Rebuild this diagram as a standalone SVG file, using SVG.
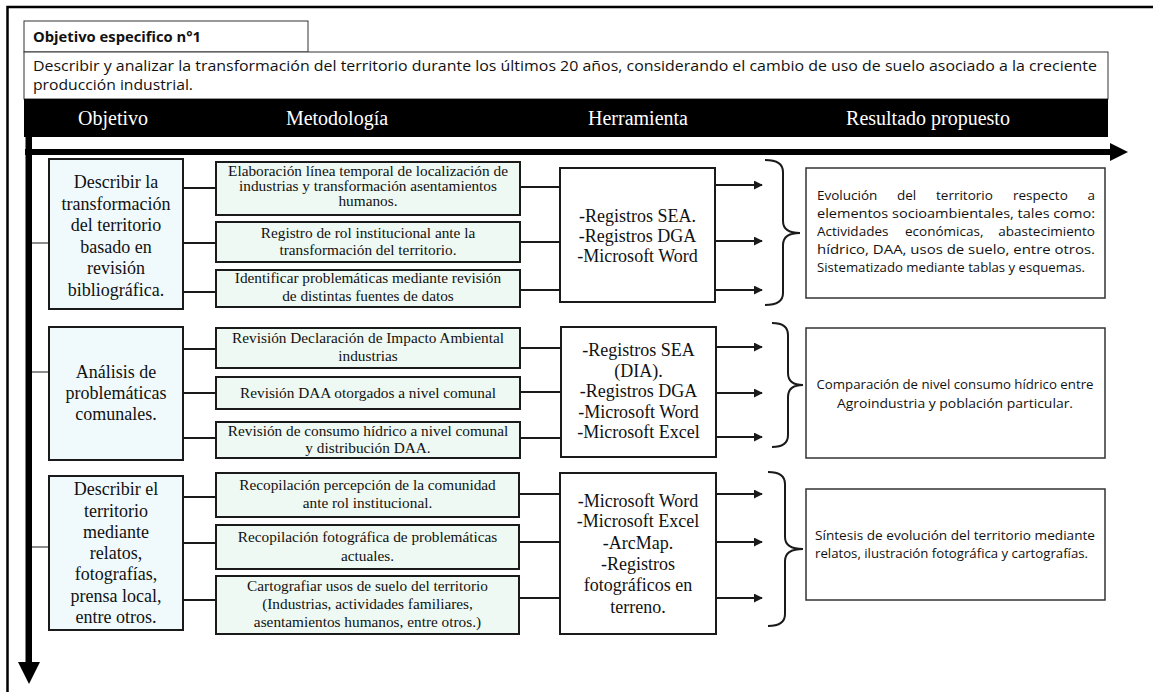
<svg xmlns="http://www.w3.org/2000/svg" width="1153" height="692" viewBox="0 0 1153 692">
  <style>
    .serif { font-family: "Liberation Serif", "Times New Roman", serif; fill: #111; }
    .sans { font-family: "Open Sans", "Noto Sans", "Liberation Sans", sans-serif; fill: #111; }
    .obj { fill: #f0fafd; stroke: #1a1a1a; stroke-width: 2; }
    .met { fill: #eff9f3; stroke: #1a1a1a; stroke-width: 2; }
    .tool { fill: #ffffff; stroke: #1a1a1a; stroke-width: 2; }
    .res { fill: #ffffff; stroke: #333; stroke-width: 1.5; }
    .objt { font-size: 18px; text-anchor: middle; }
    .mett { font-size: 15.3px; text-anchor: middle; }
    .toolt { font-size: 18px; text-anchor: middle; }
    .rest { font-size: 13.5px; }
    .end { text-anchor: end; }
    .hdr { font-family: "Liberation Serif", "Times New Roman", serif; font-size: 20px; fill: #fff; text-anchor: middle; }
    .link { stroke: #1a1a1a; stroke-width: 2; fill: none; }
    .axislink { stroke: #666; stroke-width: 1.5; fill: none; }
    .brace { stroke: #1a1a1a; stroke-width: 2; fill: none; }
  </style>
  <defs>
    <marker id="head" viewBox="0 0 10 10" refX="9" refY="5" markerWidth="4.5" markerHeight="4.5" orient="auto" markerUnits="strokeWidth">
      <path d="M0,0 L10,5 L0,10 z" fill="#1a1a1a"/>
    </marker>
  </defs>

  <rect x="0" y="0" width="1153" height="692" fill="#fff"/>

  <!-- outer frame -->
  <path d="M7.5,692 L7.5,7 L1153,7" stroke="#000" stroke-width="2.5" fill="none"/>

  <!-- heading -->
  <g id="title">
    <rect x="24" y="21" width="284" height="31" fill="#fff" stroke="#333" stroke-width="1"/>
    <text class="sans" x="33" y="42" font-size="14" font-weight="bold" textLength="168" lengthAdjust="spacingAndGlyphs">Objetivo especifico n°1</text>
  </g>
  <g id="description">
    <rect x="24" y="52" width="1084" height="47" fill="#fff" stroke="#333" stroke-width="1"/>
    <text class="sans" x="33" y="71" font-size="14" textLength="1064" lengthAdjust="spacingAndGlyphs">Describir y analizar la transformación del territorio durante los últimos 20 años, considerando el cambio de uso de suelo asociado a la creciente</text>
    <text class="sans" x="33" y="90" font-size="14" textLength="160" lengthAdjust="spacingAndGlyphs">producción industrial.</text>
  </g>
  <g id="header">
    <rect x="24" y="99" width="1084" height="38" fill="#000"/>
    <text class="hdr" x="113" y="125">Objetivo</text>
    <text class="hdr" x="337" y="125">Metodología</text>
    <text class="hdr" x="638" y="125">Herramienta</text>
    <text class="hdr" x="928" y="125">Resultado propuesto</text>
  </g>

  <!-- axes -->
  <g id="axes">
    <rect x="25" y="149" width="1088" height="6" fill="#000"/>
    <polygon points="1110,143 1128,152 1110,161" fill="#000"/>
    <rect x="25.5" y="137" width="6.5" height="527" fill="#000"/>
    <polygon points="18,662 40,662 29,684" fill="#000"/>
  </g>

  <!-- connectors -->
  <g id="connectors">
    <line class="axislink" x1="32" y1="243" x2="49" y2="243"/>
    <line class="axislink" x1="32" y1="372" x2="49" y2="372"/>
    <line class="axislink" x1="32" y1="547" x2="49" y2="547"/>

    <line class="link" x1="183" y1="188" x2="216" y2="188"/>
    <line class="link" x1="183" y1="243" x2="216" y2="243"/>
    <line class="link" x1="183" y1="292" x2="216" y2="292"/>
    <line class="link" x1="520" y1="187" x2="560" y2="187"/>
    <line class="link" x1="520" y1="242" x2="560" y2="242"/>
    <line class="link" x1="520" y1="290" x2="560" y2="290"/>
    <line class="link" x1="715" y1="185" x2="762" y2="185" marker-end="url(#head)"/>
    <line class="link" x1="715" y1="241" x2="762" y2="241" marker-end="url(#head)"/>
    <line class="link" x1="715" y1="290" x2="762" y2="290" marker-end="url(#head)"/>

    <line class="link" x1="183" y1="349" x2="216" y2="349"/>
    <line class="link" x1="183" y1="393" x2="216" y2="393"/>
    <line class="link" x1="183" y1="438" x2="216" y2="438"/>
    <line class="link" x1="520" y1="348" x2="561" y2="348"/>
    <line class="link" x1="520" y1="392" x2="561" y2="392"/>
    <line class="link" x1="520" y1="438" x2="561" y2="438"/>
    <line class="link" x1="716" y1="347" x2="762" y2="347" marker-end="url(#head)"/>
    <line class="link" x1="716" y1="393" x2="762" y2="393" marker-end="url(#head)"/>
    <line class="link" x1="716" y1="437" x2="762" y2="437" marker-end="url(#head)"/>

    <line class="link" x1="183" y1="497" x2="216" y2="497"/>
    <line class="link" x1="183" y1="543" x2="216" y2="543"/>
    <line class="link" x1="183" y1="600" x2="216" y2="600"/>
    <line class="link" x1="519" y1="494" x2="560" y2="494"/>
    <line class="link" x1="519" y1="542" x2="560" y2="542"/>
    <line class="link" x1="519" y1="598" x2="560" y2="598"/>
    <line class="link" x1="716" y1="494" x2="762" y2="494" marker-end="url(#head)"/>
    <line class="link" x1="716" y1="542" x2="762" y2="542" marker-end="url(#head)"/>
    <line class="link" x1="716" y1="598" x2="762" y2="598" marker-end="url(#head)"/>

    <path class="brace" d="M765,160 Q783,160 783,172 L783,221 Q783,233 800,233 Q783,233 783,245 L783,293 Q783,305 765,305"/>
    <path class="brace" d="M772,323 Q788,323 788,335 L788,373 Q788,385 803,385 Q788,385 788,397 L788,435 Q788,447 772,447"/>
    <path class="brace" d="M768,472 Q785,472 785,484 L785,537 Q785,549 803,549 Q785,549 785,561 L785,614 Q785,626 768,626"/>
  </g>

  <!-- row 1 -->
  <g id="obj1">
    <rect class="obj" x="49" y="159" width="134" height="150"/>
    <text class="serif objt" x="116" y="188">Describir la</text>
    <text class="serif objt" x="116" y="209.5">transformación</text>
    <text class="serif objt" x="116" y="231">del territorio</text>
    <text class="serif objt" x="116" y="252.5">basado en</text>
    <text class="serif objt" x="116" y="274">revisión</text>
    <text class="serif objt" x="116" y="295.5">bibliográfica.</text>
  </g>
  <g id="met1">
    <rect class="met" x="216" y="162" width="304" height="53"/>
    <text class="serif mett" x="368" y="176">Elaboración línea temporal de localización de</text>
    <text class="serif mett" x="368" y="191">industrias y transformación asentamientos</text>
    <text class="serif mett" x="368" y="206">humanos.</text>
  </g>
  <g id="met2">
    <rect class="met" x="216" y="222" width="304" height="40"/>
    <text class="serif mett" x="368" y="238">Registro de rol institucional ante la</text>
    <text class="serif mett" x="368" y="255">transformación del territorio.</text>
  </g>
  <g id="met3">
    <rect class="met" x="216" y="270" width="304" height="37"/>
    <text class="serif mett" x="368" y="283">Identificar problemáticas mediante revisión</text>
    <text class="serif mett" x="368" y="301">de distintas fuentes de datos</text>
  </g>
  <g id="tool1">
    <rect class="tool" x="560" y="168" width="155" height="134"/>
    <text class="serif toolt" x="637.5" y="222">-Registros SEA.</text>
    <text class="serif toolt" x="637.5" y="242">-Registros DGA</text>
    <text class="serif toolt" x="637.5" y="262">-Microsoft Word</text>
  </g>
  <g id="res1">
    <rect class="res" x="806" y="168" width="299" height="130"/>
    <!-- justified paragraph: words placed at their spread positions -->
    <text class="sans rest" y="200"><tspan x="817">Evolución</tspan><tspan x="897">del</tspan><tspan x="936">territorio</tspan><tspan x="1013">respecto</tspan></text>
    <text class="sans rest end" x="1095" y="200">a</text>
    <text class="sans rest" x="817" y="218" textLength="278" lengthAdjust="spacingAndGlyphs">elementos socioambientales, tales como:</text>
    <text class="sans rest" y="236"><tspan x="817">Actividades</tspan><tspan x="905">económicas,</tspan></text>
    <text class="sans rest end" x="1095" y="236">abastecimiento</text>
    <text class="sans rest" x="817" y="254" textLength="278" lengthAdjust="spacingAndGlyphs">hídrico, DAA, usos de suelo, entre otros.</text>
    <text class="sans rest" x="817" y="272" textLength="268" lengthAdjust="spacingAndGlyphs">Sistematizado mediante tablas y esquemas.</text>
  </g>

  <!-- row 2 -->
  <g id="obj2">
    <rect class="obj" x="49" y="327" width="134" height="133"/>
    <text class="serif objt" x="116" y="378">Análisis de</text>
    <text class="serif objt" x="116" y="399">problemáticas</text>
    <text class="serif objt" x="116" y="420">comunales.</text>
  </g>
  <g id="met4">
    <rect class="met" x="216" y="328" width="304" height="40"/>
    <text class="serif mett" x="368" y="343">Revisión Declaración de Impacto Ambiental</text>
    <text class="serif mett" x="368" y="361">industrias</text>
  </g>
  <g id="met5">
    <rect class="met" x="216" y="377" width="304" height="32"/>
    <text class="serif mett" x="368" y="398">Revisión DAA otorgados a nivel comunal</text>
  </g>
  <g id="met6">
    <rect class="met" x="216" y="422" width="304" height="36"/>
    <text class="serif mett" x="368" y="436">Revisión de consumo hídrico a nivel comunal</text>
    <text class="serif mett" x="368" y="453">y distribución DAA.</text>
  </g>
  <g id="tool2">
    <rect class="tool" x="561" y="327" width="155" height="130"/>
    <text class="serif toolt" x="638.5" y="356">-Registros SEA</text>
    <text class="serif toolt" x="638.5" y="377">(DIA).</text>
    <text class="serif toolt" x="638.5" y="397">-Registros DGA</text>
    <text class="serif toolt" x="638.5" y="418">-Microsoft Word</text>
    <text class="serif toolt" x="638.5" y="438">-Microsoft Excel</text>
  </g>
  <g id="res2">
    <rect class="res" x="806" y="328" width="299" height="130"/>
    <text class="sans rest" x="955" y="389" text-anchor="middle" textLength="277" lengthAdjust="spacingAndGlyphs">Comparación de nivel consumo hídrico entre</text>
    <text class="sans rest" x="955" y="408" text-anchor="middle" textLength="236" lengthAdjust="spacingAndGlyphs">Agroindustria y población particular.</text>
  </g>

  <!-- row 3 -->
  <g id="obj3">
    <rect class="obj" x="49" y="476" width="134" height="154"/>
    <text class="serif objt" x="116" y="495">Describir el</text>
    <text class="serif objt" x="116" y="517">territorio</text>
    <text class="serif objt" x="116" y="538">mediante</text>
    <text class="serif objt" x="116" y="559">relatos,</text>
    <text class="serif objt" x="116" y="580">fotografías,</text>
    <text class="serif objt" x="116" y="602">prensa local,</text>
    <text class="serif objt" x="116" y="623">entre otros.</text>
  </g>
  <g id="met7">
    <rect class="met" x="216" y="473" width="303" height="44"/>
    <text class="serif mett" x="367.5" y="490">Recopilación percepción de la comunidad</text>
    <text class="serif mett" x="367.5" y="508">ante rol institucional.</text>
  </g>
  <g id="met8">
    <rect class="met" x="216" y="525" width="303" height="44"/>
    <text class="serif mett" x="367.5" y="542">Recopilación fotográfica de problemáticas</text>
    <text class="serif mett" x="367.5" y="561">actuales.</text>
  </g>
  <g id="met9">
    <rect class="met" x="216" y="576" width="303" height="58"/>
    <text class="serif mett" x="367.5" y="591">Cartografiar usos de suelo del territorio</text>
    <text class="serif mett" x="367.5" y="609">(Industrias, actividades familiares,</text>
    <text class="serif mett" x="367.5" y="627">asentamientos humanos, entre otros.)</text>
  </g>
  <g id="tool3">
    <rect class="tool" x="560" y="473" width="156" height="161"/>
    <text class="serif toolt" x="638" y="507">-Microsoft Word</text>
    <text class="serif toolt" x="638" y="527">-Microsoft Excel</text>
    <text class="serif toolt" x="638" y="549">-ArcMap.</text>
    <text class="serif toolt" x="638" y="570">-Registros</text>
    <text class="serif toolt" x="638" y="591">fotográficos en</text>
    <text class="serif toolt" x="638" y="613">terreno.</text>
  </g>
  <g id="res3">
    <rect class="res" x="806" y="489" width="299" height="111"/>
    <text class="sans rest" x="815" y="540" textLength="280" lengthAdjust="spacingAndGlyphs">Síntesis de evolución del territorio mediante</text>
    <text class="sans rest" x="815" y="558" textLength="273" lengthAdjust="spacingAndGlyphs">relatos, ilustración fotográfica y cartografías.</text>
  </g>
</svg>
